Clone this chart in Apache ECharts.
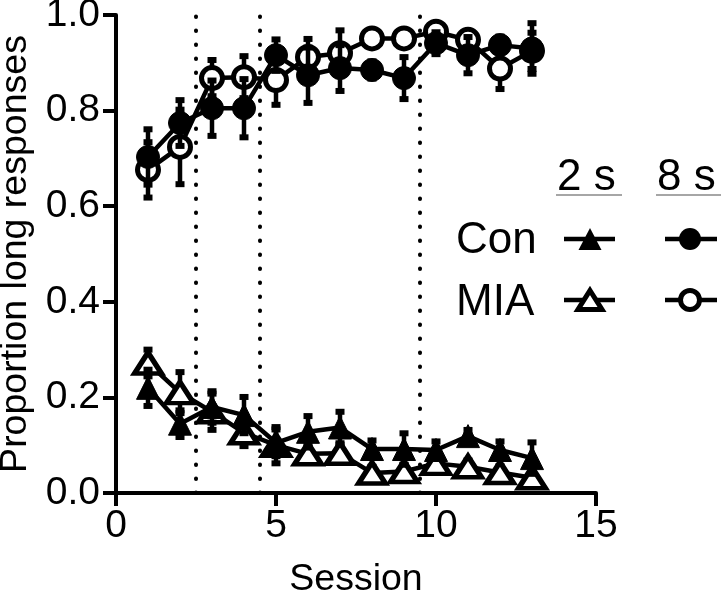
<!DOCTYPE html>
<html>
<head>
<meta charset="utf-8">
<script src="https://cdn.jsdelivr.net/npm/echarts@6/dist/echarts.min.js"></script>
<style>html,body{margin:0;padding:0;background:#fff;}#c{width:721px;height:595px;}</style>
</head>
<body>
<div id="c"></div>
<script>
const sessions = [1,2,3,4,5,6,7,8,9,10,11,12,13];
const con8 = [0.703,0.774,0.805,0.805,0.916,0.874,0.889,0.885,0.868,0.941,0.916,0.937,0.930];
const con8Err = [0.06,0.05,0.06,0.063,0.035,0.06,0.05,0.02,0.046,0.025,0.04,0.02,0.055];
const mia8 = [0.676,0.724,0.868,0.870,0.864,0.912,0.920,0.951,0.951,0.965,0.948,0.888,0.925];
const mia8Err = [0.06,0.08,0.04,0.046,0.054,0.04,0.05,0.015,0.015,0.015,0.02,0.045,0.04];
const con2 = [0.22,0.145,0.18,0.163,0.105,0.128,0.137,0.092,0.092,0.09,0.119,0.09,0.073];
const con2Err = [0.04,0.03,0.035,0.04,0.03,0.035,0.035,0.02,0.035,0.02,0.015,0.02,0.035];
const mia2 = [0.272,0.21,0.17,0.126,0.10,0.082,0.083,0.042,0.045,0.062,0.055,0.043,0.032];
const mia2Err = [0.03,0.045,0.04,0.03,0.04,0.02,0.02,0.015,0.015,0.015,0.015,0.015,0.015];
const phaseBreaks = [2.5,4.5,9.5];
const xTicks = [0,5,10,15];
const yTicks = [0,0.2,0.4,0.6,0.8,1.0];
const rowLabels = ['Con','MIA'];
const colLabels = ['2 s','8 s'];

const FONT = 'Liberation Sans, Arial, sans-serif';
const chart = echarts.init(document.getElementById('c'));

function pts(vals){ return sessions.map((s,i)=>[s, vals[i]]); }
function errPts(vals, errs){ return sessions.map((s,i)=>[s, vals[i]-errs[i], vals[i]+errs[i]]); }

function errSeries(vals, errs, z){
  return {
    type:'custom', z:z, silent:true,
    data: errPts(vals, errs),
    renderItem: function(params, api){
      const x = api.value(0);
      const lo = api.coord([x, api.value(1)]);
      const hi = api.coord([x, api.value(2)]);
      return {type:'group', children:[
        {type:'line', shape:{x1:lo[0],y1:lo[1],x2:hi[0],y2:hi[1]}, style:{stroke:'#000',lineWidth:4.5}},
        {type:'rect', shape:{x:lo[0]-4.5,y:lo[1]-4,width:9,height:6}, style:{fill:'#000'}},
        {type:'rect', shape:{x:hi[0]-4.5,y:hi[1]-2,width:9,height:6}, style:{fill:'#000'}}
      ]};
    }
  };
}

function lineSeries(name, vals, symbol, filled, size, z){
  return {
    name:name, type:'line', z:z, data: pts(vals),
    symbol: symbol, symbolSize: size, showSymbol:true,
    lineStyle:{color:'#000', width:4.5},
    itemStyle: filled ? {color:'#000', borderColor:'#000', borderWidth:1} : {color:'#fff', borderColor:'#000', borderWidth:5},
    emphasis:{disabled:true}, animation:false
  };
}

const triPts = (cx, cy, w, h) => [[cx, cy - h/2],[cx + w/2, cy + h/2],[cx - w/2, cy + h/2]];
const legendGraphics = [
  {type:'text', x:557, y:178, style:{text:colLabels[0], font:'44px '+FONT, fill:'#000', verticalAlign:'middle'}},
  {type:'text', x:657, y:178, style:{text:colLabels[1], font:'44px '+FONT, fill:'#000', verticalAlign:'middle'}},
  {type:'line', shape:{x1:556,y1:195,x2:622,y2:195}, style:{stroke:'#888', lineWidth:1.5}},
  {type:'line', shape:{x1:656,y1:195,x2:721,y2:195}, style:{stroke:'#888', lineWidth:1.5}},
  {type:'text', x:456, y:241, style:{text:rowLabels[0], font:'44px '+FONT, fill:'#000', verticalAlign:'middle'}},
  {type:'text', x:456, y:303, style:{text:rowLabels[1], font:'44px '+FONT, fill:'#000', verticalAlign:'middle'}},
  {type:'line', shape:{x1:564,y1:239,x2:615,y2:239}, style:{stroke:'#000', lineWidth:4.5}},
  {type:'polygon', shape:{points:triPts(590,239,23,22)}, style:{fill:'#000'}},
  {type:'line', shape:{x1:564,y1:300,x2:615,y2:300}, style:{stroke:'#000', lineWidth:4.5}},
  {type:'polygon', shape:{points:triPts(590,300,24,19)}, style:{fill:'#fff', stroke:'#000', lineWidth:5}},
  {type:'line', shape:{x1:665,y1:239,x2:717,y2:239}, style:{stroke:'#000', lineWidth:4.5}},
  {type:'circle', shape:{cx:690,cy:239,r:11}, style:{fill:'#000'}},
  {type:'line', shape:{x1:665,y1:300,x2:717,y2:300}, style:{stroke:'#000', lineWidth:4.5}},
  {type:'circle', shape:{cx:690,cy:300,r:9.5}, style:{fill:'#fff', stroke:'#000', lineWidth:5}}
];

const option = {
  animation:false,
  backgroundColor:'#fff',
  grid:{left:116, right:125, top:15, bottom:102, containLabel:false, outerBoundsMode:'none'},
  xAxis:{
    type:'value', min:xTicks[0], max:xTicks[xTicks.length-1], interval:5,
    name:'Session', nameLocation:'middle', nameGap:68,
    nameTextStyle:{fontFamily:FONT, fontSize:37.5, color:'#000'},
    axisLine:{show:true, onZero:false, lineStyle:{color:'#000', width:4}},
    axisTick:{show:true, length:13, lineStyle:{color:'#000', width:4}},
    axisLabel:{fontFamily:FONT, fontSize:39, color:'#000', margin:14},
    splitLine:{show:false}
  },
  yAxis:{
    type:'value', min:yTicks[0], max:yTicks[yTicks.length-1], interval:0.2,
    name:'Proportion long responses', nameLocation:'middle', nameGap:77,
    nameTextStyle:{fontFamily:FONT, fontSize:37.5, color:'#000'},
    axisLine:{show:true, onZero:false, lineStyle:{color:'#000', width:4}},
    axisTick:{show:true, length:13, lineStyle:{color:'#000', width:4}},
    axisLabel:{fontFamily:FONT, fontSize:39, color:'#000', margin:16, formatter:v=>v.toFixed(1)},
    splitLine:{show:false}
  },
  graphic: legendGraphics,
  series:[
    {
      type:'line', data:[], z:1, silent:true,
      markLine:{
        silent:true, symbol:['none','none'], label:{show:false},
        lineStyle:{color:'#000', width:4, type:[0.5,13.5], cap:'round'},
        data: phaseBreaks.map(v=>({xAxis:v}))
      }
    },
    errSeries(mia2, mia2Err, 2),
    lineSeries('MIA 2 s', mia2, 'triangle', false, [27,21], 3),
    errSeries(con2, con2Err, 4),
    lineSeries('Con 2 s', con2, 'triangle', true, [23,23], 5),
    errSeries(mia8, mia8Err, 2),
    lineSeries('MIA 8 s', mia8, 'circle', false, 21, 3),
    errSeries(con8, con8Err, 4),
    lineSeries('Con 8 s', con8, 'circle', true, 23, 5)
  ]
};
chart.setOption(option);
</script>
</body>
</html>
